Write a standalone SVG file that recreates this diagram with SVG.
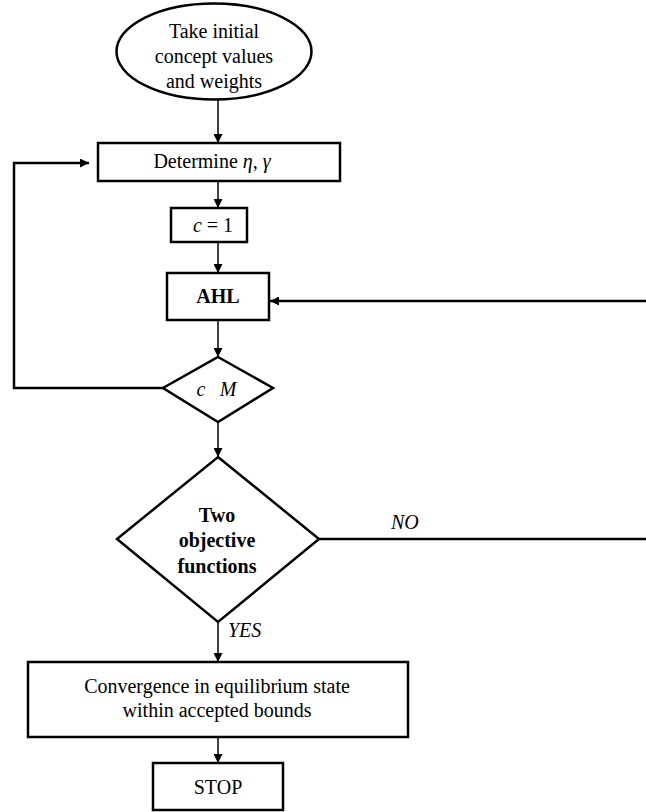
<svg xmlns="http://www.w3.org/2000/svg" width="646" height="812" viewBox="0 0 646 812">
<style>
.shape{fill:#fff;stroke:#000;stroke-width:2.5}
.t{font-family:"Liberation Serif","Times New Roman",serif;font-size:20px;fill:#000;text-anchor:middle}
.b{font-weight:bold}
.i{font-style:italic}
.flow{fill:none;stroke:#000;stroke-width:1.5}
.thick{fill:none;stroke:#000;stroke-width:2.5}
</style>
<defs>
<marker id="ah" viewBox="0 0 10 10" refX="10" refY="5" markerWidth="9" markerHeight="9" markerUnits="userSpaceOnUse" orient="auto">
<path d="M0,0 L10,5 L0,10 Z" fill="#000"/>
</marker>
</defs>
<g id="connectors">
<line class="flow" x1="218" y1="100" x2="218" y2="143" marker-end="url(#ah)"/>
<line class="flow" x1="218" y1="181" x2="218" y2="208" marker-end="url(#ah)"/>
<line class="flow" x1="218" y1="242" x2="218" y2="273" marker-end="url(#ah)"/>
<line class="flow" x1="218" y1="320" x2="218" y2="357" marker-end="url(#ah)"/>
<line class="flow" x1="218" y1="422" x2="218" y2="457" marker-end="url(#ah)"/>
<line class="flow" x1="218" y1="622" x2="218" y2="662" marker-end="url(#ah)"/>
<line class="flow" x1="218" y1="737" x2="218" y2="763" marker-end="url(#ah)"/>
<polyline class="thick" points="163,388 14,388 14,163 89,163" marker-end="url(#ah)"/>
<line class="thick" x1="646" y1="301" x2="270" y2="301" marker-end="url(#ah)"/>
<line class="thick" x1="319" y1="539" x2="646" y2="539"/>
<text class="t i" x="391" y="529" style="text-anchor:start">NO</text>
<text class="t i" x="228" y="637" style="text-anchor:start">YES</text>
</g>
<g id="start">
<ellipse class="shape" cx="214" cy="51.5" rx="97.5" ry="48" stroke-width="2"/>
<text class="t" x="214" y="38">Take initial</text>
<text class="t" x="214" y="63">concept values</text>
<text class="t" x="214" y="88">and weights</text>
</g>
<g id="determine">
<rect class="shape" x="98" y="143" width="242" height="38"/>
<text class="t" x="212" y="168">Determine <tspan class="i">η</tspan>, <tspan class="i">γ</tspan></text>
</g>
<g id="c1">
<rect class="shape" x="171" y="208" width="76" height="34"/>
<text class="t" x="213" y="232"><tspan class="i">c</tspan> = 1</text>
</g>
<g id="ahl">
<rect class="shape" x="167" y="273" width="102" height="47"/>
<text class="t b" x="218" y="303">AHL</text>
</g>
<g id="cM">
<polygon class="shape" points="218,357 273,388 218,422 163,388"/>
<text class="t i" x="201" y="396">c</text>
<text class="t i" x="228" y="396">M</text>
</g>
<g id="objective">
<polygon class="shape" points="218,457 319,539 218,622 117,539"/>
<text class="t b" x="217" y="522">Two</text>
<text class="t b" x="217" y="547">objective</text>
<text class="t b" x="217" y="573">functions</text>
</g>
<g id="convergence">
<rect class="shape" x="28" y="662" width="380" height="75"/>
<text class="t" x="217" y="693" font-size="21">Convergence in equilibrium state</text>
<text class="t" x="217" y="717" font-size="21">within accepted bounds</text>
</g>
<g id="stop">
<rect class="shape" x="153" y="763" width="130" height="47"/>
<text class="t" x="218" y="794">STOP</text>
</g>
</svg>
